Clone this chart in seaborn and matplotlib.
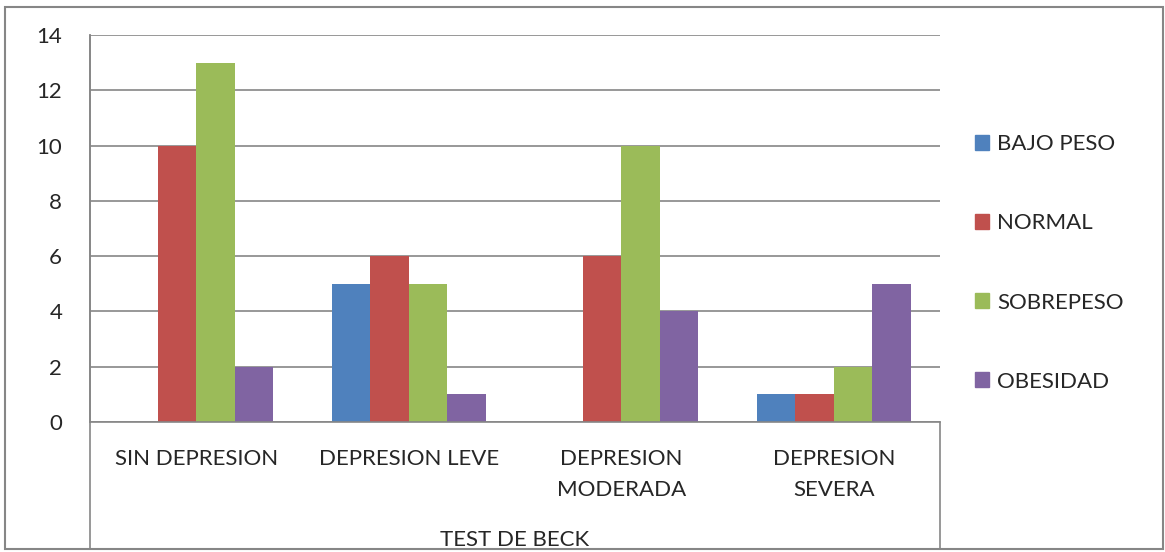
import pandas as pd
import matplotlib.pyplot as plt
import seaborn as sns
from matplotlib.lines import Line2D
from matplotlib.patches import Rectangle

# Datos
categorias = ["SIN DEPRESION", "DEPRESION LEVE", "DEPRESION\nMODERADA", "DEPRESION\nSEVERA"]
series = ["BAJO PESO", "NORMAL", "SOBREPESO", "OBESIDAD"]
bajo_peso = [0, 5, 0, 1]
normal = [10, 6, 6, 1]
sobrepeso = [13, 5, 10, 2]
obesidad = [2, 1, 4, 5]
colores = ["#4F81BD", "#C0504D", "#9BBB59", "#8064A2"]
y_ticks = [0, 2, 4, 6, 8, 10, 12, 14]

# Tabla larga para seaborn
valores = [bajo_peso, normal, sobrepeso, obesidad]
filas = []
for s, vals in zip(series, valores):
    for c, v in zip(categorias, vals):
        filas.append({"categoria": c, "serie": s, "valor": v})
df = pd.DataFrame(filas)

sns.set_style("white")
plt.rcParams['font.family'] = ['Lato', 'DejaVu Sans']

W, H = 1165, 552
fs = 16
fig = plt.figure(figsize=(W / 100, H / 100), dpi=100)
ax = fig.add_axes([90 / W, (H - 422) / H, 850 / W, 387 / H])

sns.barplot(data=df, x="categoria", y="valor", hue="serie", order=categorias,
            hue_order=series, palette=colores, width=0.727, saturation=1,
            linewidth=0, ax=ax, legend=False)

grid_color = "#868686"
ax.set_ylim(0, 14)
ax.set_xlim(-0.5, 3.5)
ax.set_yticks(y_ticks)
ax.set_axisbelow(True)
ax.yaxis.grid(True, color=grid_color, linewidth=1.2)
for sp in ax.spines.values():
    sp.set_visible(False)
ax.spines["left"].set_visible(True)
ax.spines["left"].set_color(grid_color)
ax.spines["left"].set_linewidth(1.2)
ax.spines["bottom"].set_visible(True)
ax.spines["bottom"].set_color(grid_color)
ax.spines["bottom"].set_linewidth(1.2)
ax.tick_params(axis="y", length=0, pad=20, labelsize=fs)
ax.tick_params(axis="x", length=0, pad=19.5, labelsize=fs)
for lab in ax.get_xticklabels():
    lab.set_linespacing(1.7)
    lab.set_verticalalignment("top")
ax.set_xlabel("")
ax.set_ylabel("")

# Caja del eje de categorias y borde del grafico
fig.add_artist(Line2D([90 / W, 90 / W], [(H - 35) / H, (H - 549) / H], color=grid_color, lw=1.2))
fig.add_artist(Line2D([940 / W, 940 / W], [(H - 422) / H, (H - 549) / H], color=grid_color, lw=1.2))
fig.add_artist(Rectangle((5 / W, (H - 549) / H), 1158 / W, 542 / H, fill=False,
                         edgecolor=grid_color, lw=1.5))

fig.text(515 / W, (H - 540) / H, "TEST DE BECK", ha="center", va="center", fontsize=fs)

handles = [Rectangle((0, 0), 1, 1, color=c) for c in colores]
ax.legend(handles, series, loc="center left", bbox_to_anchor=(975 / W, (H - 263) / H),
          bbox_transform=fig.transFigure, frameon=False, fontsize=fs,
          handlelength=0.65, handleheight=0.65, handletextpad=0.35,
          labelspacing=2.66, borderpad=0, borderaxespad=0)

fig.savefig("out.png", dpi=100)
